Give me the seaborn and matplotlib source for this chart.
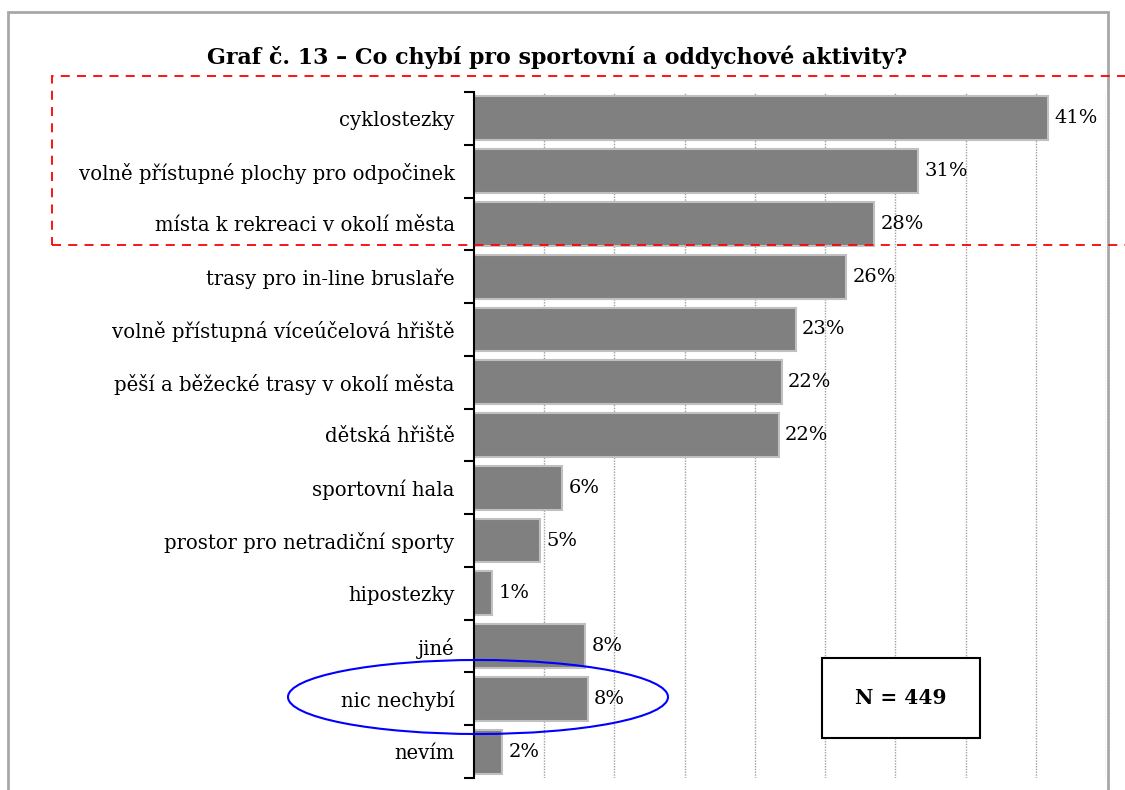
import matplotlib
matplotlib.use("Agg")
import matplotlib.pyplot as plt
import seaborn as sns
import pandas as pd
from matplotlib.patches import Rectangle, Ellipse

# data
categories = ["cyklostezky", "volně přístupné plochy pro odpočinek",
              "místa k rekreaci v okolí města", "trasy pro in-line bruslaře",
              "volně přístupná víceúčelová hřiště", "pěší a běžecké trasy v okolí města",
              "dětská hřiště", "sportovní hala", "prostor pro netradiční sporty",
              "hipostezky", "jiné", "nic nechybí", "nevím"]
values = [40.9, 31.6, 28.5, 26.5, 22.9, 21.9, 21.7, 6.3, 4.7, 1.3, 7.9, 8.1, 2.0]
labels = ["41%", "31%", "28%", "26%", "23%", "22%", "22%", "6%", "5%", "1%", "8%", "8%", "2%"]
title = "Graf č. 13 – Co chybí pro sportovní a oddychové aktivity?"
n_text = "N = 449"

df = pd.DataFrame({"kat": categories, "pct": values})

sns.set_style("white")
plt.rcParams["font.family"] = ["DejaVu Serif"]
plt.rcParams["text.color"] = "black"
plt.rcParams["ytick.color"] = "black"
plt.rcParams["ytick.labelcolor"] = "black"

fig = plt.figure(figsize=(11.25, 7.9), dpi=100)
ax = fig.add_axes([474/1125, 1-778/790, (1106-474)/1125, (778-92)/790])

sns.barplot(data=df, x="pct", y="kat", orient="h", color="#808080", saturation=1,
            edgecolor="#c0c0c0", linewidth=1.5, width=0.83, ax=ax, zorder=2)

ax.set_xlim(0, 45)
ax.set_ylim(len(categories) - 0.5, -0.5)
ax.set_xticks(range(5, 46, 5))
ax.xaxis.grid(True, color="#a0a0a0", linestyle=(0, (1, 1)), linewidth=1, zorder=0)
ax.set_axisbelow(True)
ax.tick_params(axis="x", length=0, labelbottom=False)
ax.set_xlabel("")
ax.set_ylabel("")

# y ticks at category boundaries, labels centered
ax.set_yticks([i + 0.5 for i in range(-1, len(categories))], minor=False)
ax.set_yticklabels([])
ax.set_yticks(range(len(categories)), minor=True)
ax.set_yticklabels(categories, minor=True, fontsize=14.1)
ax.tick_params(axis="y", which="major", left=True, length=7, width=1.5,
               color="black", direction="out")
ax.tick_params(axis="y", which="minor", left=False, length=0, pad=14)

for s in ["top", "right", "bottom"]:
    ax.spines[s].set_visible(False)
ax.spines["left"].set_color("black")
ax.spines["left"].set_linewidth(1.5)

for i, (v, t) in enumerate(zip(values, labels)):
    ax.text(v + 0.45, i, t, va="center", ha="left", fontsize=14)

fig.text(557/1125, 1-57/790, title, ha="center", va="center",
         fontsize=15.9, fontweight="bold")

# outer frame
fig.patches.append(Rectangle((8/1125, -0.1), 1100/1125, 1.1 - 12/790,
                             transform=fig.transFigure, fill=False,
                             edgecolor="#a8a8a8", linewidth=2))
# red dashed highlight
fig.patches.append(Rectangle((52/1125, 1-245/790), 1.2, (245-76)/790,
                             transform=fig.transFigure, fill=False,
                             edgecolor="red", linewidth=1.3, linestyle=(0, (5, 4))))
# blue ellipse
fig.patches.append(Ellipse((478/1125, 1-697/790), 380/1125, 74/790,
                           transform=fig.transFigure, fill=False,
                           edgecolor="blue", linewidth=1.5, zorder=5))
# N box
fig.patches.append(Rectangle((822/1125, 1-738/790), 158/1125, 80/790,
                             transform=fig.transFigure, facecolor="white",
                             edgecolor="black", linewidth=1.5, zorder=5))
fig.text(901/1125, 1-698/790, n_text, ha="center", va="center",
         fontsize=14.5, fontweight="bold", zorder=6)

fig.savefig("out.png", dpi=100)
